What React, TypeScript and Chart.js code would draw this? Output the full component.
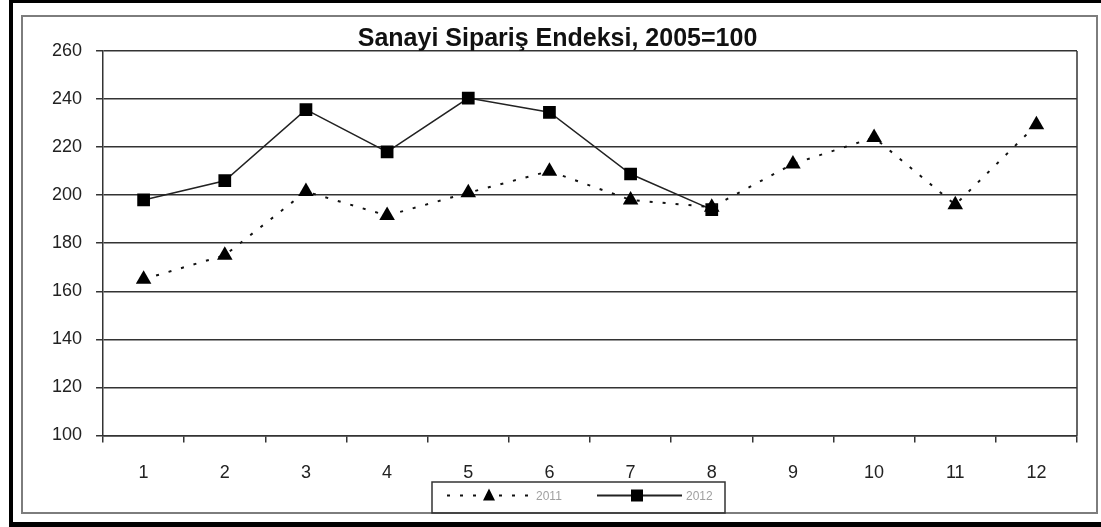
import { useEffect, useRef } from 'react';
import { Chart, registerables } from 'chart.js';

Chart.register(...registerables);

const months = ['1', '2', '3', '4', '5', '6', '7', '8', '9', '10', '11', '12'];
const series2011 = [165, 175, 201.5, 191.5, 201, 210, 198, 195, 213, 224, 196, 229.3];
const series2012 = [198, 206, 235.6, 218, 240.4, 234.5, 208.8, 194];
const seriesNames = ['2011', '2012'];
const yMin = 100;
const yMax = 260;
const yStep = 20;
const chartTitle = 'Sanayi Sipariş Endeksi, 2005=100';

const FONT = "'Liberation Sans', Arial, sans-serif";

const framePlugin = {
  id: 'frame',
  beforeDraw(chart: any) {
    const { ctx, width, height } = chart;
    ctx.save();
    ctx.fillStyle = '#ffffff';
    ctx.fillRect(0, 0, width, height);
    ctx.fillStyle = '#000000';
    ctx.fillRect(9, 0, 4, height);
    ctx.fillRect(9, 0, width - 9, 3);
    ctx.fillRect(9, height - 5, width - 9, 5);
    ctx.strokeStyle = '#7d7d7d';
    ctx.lineWidth = 2;
    ctx.strokeRect(22, 16, width - 26, height - 30);
    ctx.restore();
  },
  afterDraw(chart: any) {
    const { ctx, chartArea } = chart;
    ctx.save();
    // right edge of plot frame
    ctx.strokeStyle = '#333333';
    ctx.lineWidth = 1.5;
    ctx.beginPath();
    ctx.moveTo(chartArea.right, chartArea.top);
    ctx.lineTo(chartArea.right, chartArea.bottom);
    ctx.stroke();

    // legend
    const bx = 432, by = 482, bw = 293, bh = 31;
    ctx.strokeStyle = '#333333';
    ctx.lineWidth = 1.5;
    ctx.strokeRect(bx, by, bw, bh);
    const ly = by + 13.5;
    const ds = chart.data.datasets;
    // 2011
    ctx.strokeStyle = ds[0].borderColor;
    ctx.lineWidth = 2;
    ctx.setLineDash([3, 10]);
    ctx.beginPath();
    ctx.moveTo(bx + 15, ly);
    ctx.lineTo(bx + 100, ly);
    ctx.stroke();
    ctx.setLineDash([]);
    ctx.fillStyle = '#000';
    const tx = bx + 57;
    ctx.beginPath();
    ctx.moveTo(tx, ly - 7);
    ctx.lineTo(tx + 6, ly + 5);
    ctx.lineTo(tx - 6, ly + 5);
    ctx.closePath();
    ctx.fill();
    // 2012
    ctx.strokeStyle = ds[1].borderColor;
    ctx.lineWidth = 2;
    ctx.beginPath();
    ctx.moveTo(bx + 165, ly);
    ctx.lineTo(bx + 250, ly);
    ctx.stroke();
    ctx.fillRect(bx + 205 - 6, ly - 6, 12, 12);
    ctx.fillStyle = '#a0a0a0';
    ctx.font = `12px ${FONT}`;
    ctx.textBaseline = 'middle';
    ctx.textAlign = 'left';
    ctx.fillText(ds[0].label, bx + 104, ly + 1);
    ctx.fillText(ds[1].label, bx + 254, ly + 1);
    ctx.restore();
  },
};

export default function App() {
  const ref = useRef<HTMLCanvasElement | null>(null);

  useEffect(() => {
    if (!ref.current) return;
    const chart = new Chart(ref.current, {
      type: 'line',
      data: {
        labels: months,
        datasets: [
          {
            label: seriesNames[0],
            data: series2011,
            borderColor: '#111111',
            borderWidth: 2,
            borderDash: [3, 10],
            pointStyle: 'triangle',
            pointRadius: 9,
            pointBackgroundColor: '#000000',
            pointBorderColor: '#000000',
            pointBorderWidth: 0,
            fill: false,
            tension: 0,
          },
          {
            label: seriesNames[1],
            data: series2012,
            borderColor: '#222222',
            borderWidth: 1.5,
            pointStyle: 'rect',
            pointRadius: 9,
            pointBackgroundColor: '#000000',
            pointBorderColor: '#000000',
            pointBorderWidth: 0,
            fill: false,
            tension: 0,
          },
        ],
      },
      options: {
        animation: false,
        responsive: false,
        maintainAspectRatio: false,
        layout: { padding: { left: 38, right: 24, top: 17, bottom: 23 } },
        plugins: {
          legend: { display: false },
          tooltip: { enabled: false },
          title: {
            display: true,
            text: chartTitle,
            color: '#111111',
            font: { family: FONT, size: 25, weight: 'bold', lineHeight: 0.96 },
            padding: { top: 10, bottom: 0 },
          },
        },
        scales: {
          x: {
            offset: true,
            grid: {
              offset: true,
              drawOnChartArea: false,
              drawTicks: true,
              tickLength: 7,
              tickColor: '#333333',
              lineWidth: 1.5,
            },
            border: { display: true, color: '#333333', width: 1.5 },
            ticks: {
              color: '#222222',
              padding: 20,
              font: { family: FONT, size: 18 },
              maxRotation: 0,
            },
          },
          y: {
            min: yMin,
            max: yMax,
            ticks: {
              stepSize: yStep,
              color: '#222222',
              padding: 14,
              font: { family: FONT, size: 18 },
            },
            grid: {
              color: '#333333',
              lineWidth: 1.5,
              tickLength: 7,
              drawTicks: true,
            },
            border: { display: true, color: '#333333', width: 1.5 },
          },
        },
      },
      plugins: [framePlugin],
    });
    return () => chart.destroy();
  }, []);

  return (
    <div style={{ position: 'fixed', left: 0, top: 0, width: 1101, height: 527 }}>
      <canvas ref={ref} width={1101} height={527} style={{ width: 1101, height: 527 }} />
    </div>
  );
}
